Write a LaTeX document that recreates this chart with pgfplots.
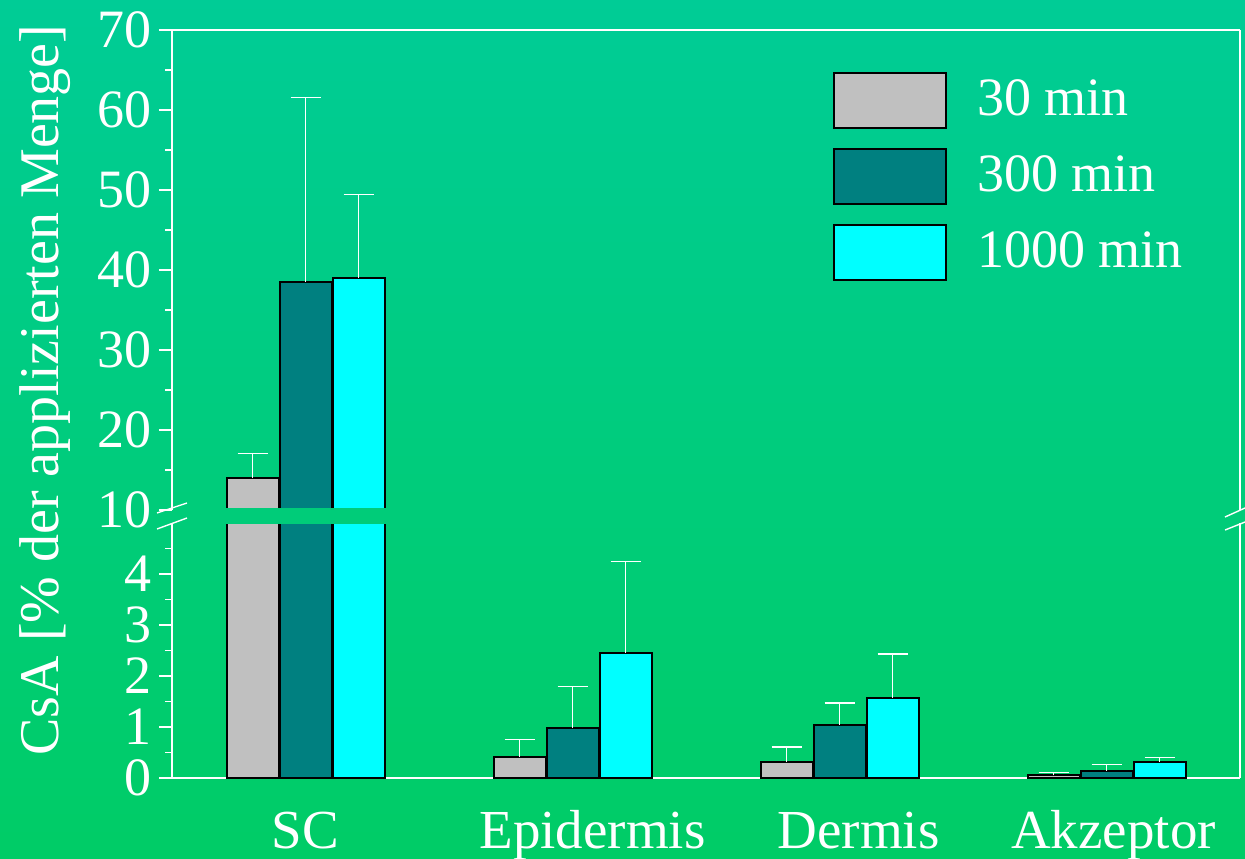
\documentclass[border=0pt]{standalone}
\usepackage{fontspec}
\setmainfont{Liberation Serif}
\usepackage{pgfplots}
\usepackage{pgfplotstable}
\pgfplotsset{compat=1.18}
\definecolor{bgtop}{RGB}{0,204,150}
\definecolor{bgbot}{RGB}{0,204,102}
\definecolor{cgray}{RGB}{192,192,192}
\definecolor{cteal}{RGB}{0,128,128}
\definecolor{ccyan}{RGB}{0,255,255}

% x: 1=SC, 2=Epidermis, 3=Dermis, 4=Akzeptor; y = mean, e = upper error
\pgfplotstableread{
x y e
1 14.0 3.1
2 0.41 0.34
3 0.31 0.30
4 0.05 0.06
}\tthirty
\pgfplotstableread{
x y e
1 38.5 23.1
2 0.98 0.82
3 1.04 0.43
4 0.14 0.12
}\tthreehundred
\pgfplotstableread{
x y e
1 39.0 10.4
2 2.45 1.80
3 1.57 0.86
4 0.32 0.09
}\tthousand

\pgfplotsset{
  brk/.style={
    ybar,
    scale only axis, width=534pt, xmin=0.5, xmax=4.5,
    axis line style={white, line width=0.7pt},
    every tick/.style={white, line width=0.7pt},
    tick align=outside, ytick pos=left,
    major tick length=6.5pt, minor tick length=3.5pt,
    tick label style={text=white, font=\fontsize{27}{30}\selectfont},
    /pgf/number format/assume math mode=true,
    bar width=26pt,
    error bars/y dir=plus,
    error bars/y explicit,
    error bars/error bar style={white, line width=0.6pt},
    error bars/error mark options={white, line width=0.6pt, mark size=7.5pt, rotate=90},
  },
  s30/.style={fill=cgray, draw=black, line width=1pt, bar shift=-26.5pt},
  s300/.style={fill=cteal, draw=black, line width=1pt, bar shift=0pt},
  s1000/.style={fill=ccyan, draw=black, line width=1pt, bar shift=26.5pt},
}

\begin{document}
\begin{tikzpicture}
\shade[top color=bgtop, bottom color=bgbot] (0,0) rectangle (622.5pt,429pt);

% lower part (0 to 5)
\begin{axis}[brk, at={(86pt,40pt)}, anchor=south west, height=127.5pt,
  ymin=0, ymax=5, ytick={0,1,2,3,4}, minor ytick={0.5,1.5,2.5,3.5,4.5},
  axis x line*=bottom,
  xtick={1,2,3,4},
  xticklabels={SC,\hspace*{20pt}Epidermis,\hspace*{19pt}Dermis,\hspace*{7pt}Akzeptor},
  xtick style={draw=none},
  xticklabel style={anchor=base, yshift=-28.5pt, font=\fontsize{27.5}{30}\selectfont},
]
% SC bars (their error bars lie in the upper part)
\addplot[s30, forget plot, restrict x to domain=0.5:1.5] table[x=x, y=y] {\tthirty};
\addplot[s300, forget plot, restrict x to domain=0.5:1.5] table[x=x, y=y] {\tthreehundred};
\addplot[s1000, forget plot, restrict x to domain=0.5:1.5] table[x=x, y=y] {\tthousand};
% other categories with error bars
\addplot[s30, restrict x to domain=1.5:4.5] table[x=x, y=y, y error=e] {\tthirty};
\addplot[s300, restrict x to domain=1.5:4.5] table[x=x, y=y, y error=e] {\tthreehundred};
\addplot[s1000, restrict x to domain=1.5:4.5] table[x=x, y=y, y error=e] {\tthousand};
\end{axis}

% upper part (10 to 70)
\begin{axis}[brk, at={(86pt,174pt)}, anchor=south west, height=240pt,
  ymin=10, ymax=70, ytick={10,20,...,70}, minor ytick={15,25,...,65},
  axis x line*=top, xtick=\empty,
  legend style={draw=none, fill=none, at={(0.619,0.9125)}, anchor=north west,
    inner sep=0pt, outer sep=0pt, row sep=9.5pt, column sep=15pt,
    nodes={inner sep=0pt, text=white, font=\fontsize{27}{30}\selectfont}},
  legend cell align=left,
  legend image code/.code={\draw[#1,/tikz/.cd,line width=1pt] (0pt,-14.5pt) rectangle (56pt,13pt);},
]
\addplot[s30, restrict x to domain=0.5:1.5] table[x=x, y=y, y error=e] {\tthirty};
\addplot[s300, restrict x to domain=0.5:1.5] table[x=x, y=y, y error=e] {\tthreehundred};
\addplot[s1000, restrict x to domain=0.5:1.5] table[x=x, y=y, y error=e] {\tthousand};
\legend{30 min, 300 min, 1000 min}
\end{axis}

% gap band of the broken axis (background shown through the bars)
\begin{scope}
  \clip (100pt,167.5pt) rectangle (610pt,174.6pt);
  \shade[top color=bgtop, bottom color=bgbot] (0,0) rectangle (622.5pt,429pt);
\end{scope}

% axis break marks
\draw[white, line width=0.7pt] (78.5pt,172.5pt) -- (93.5pt,177.5pt);
\draw[white, line width=0.7pt] (78.5pt,164.5pt) -- (93.5pt,170pt);
\draw[white, line width=0.7pt] (612.5pt,170.5pt) -- (622.5pt,175pt);
\draw[white, line width=0.7pt] (612.5pt,164pt) -- (622.5pt,168pt);

\node[rotate=90, anchor=base, text=white, font=\fontsize{28}{30}\selectfont] at (29pt,234pt) {CsA [\% der applizierten Menge]};

\pgfresetboundingbox
\useasboundingbox (0,0) rectangle (622.5pt,429pt);
\end{tikzpicture}
\end{document}
